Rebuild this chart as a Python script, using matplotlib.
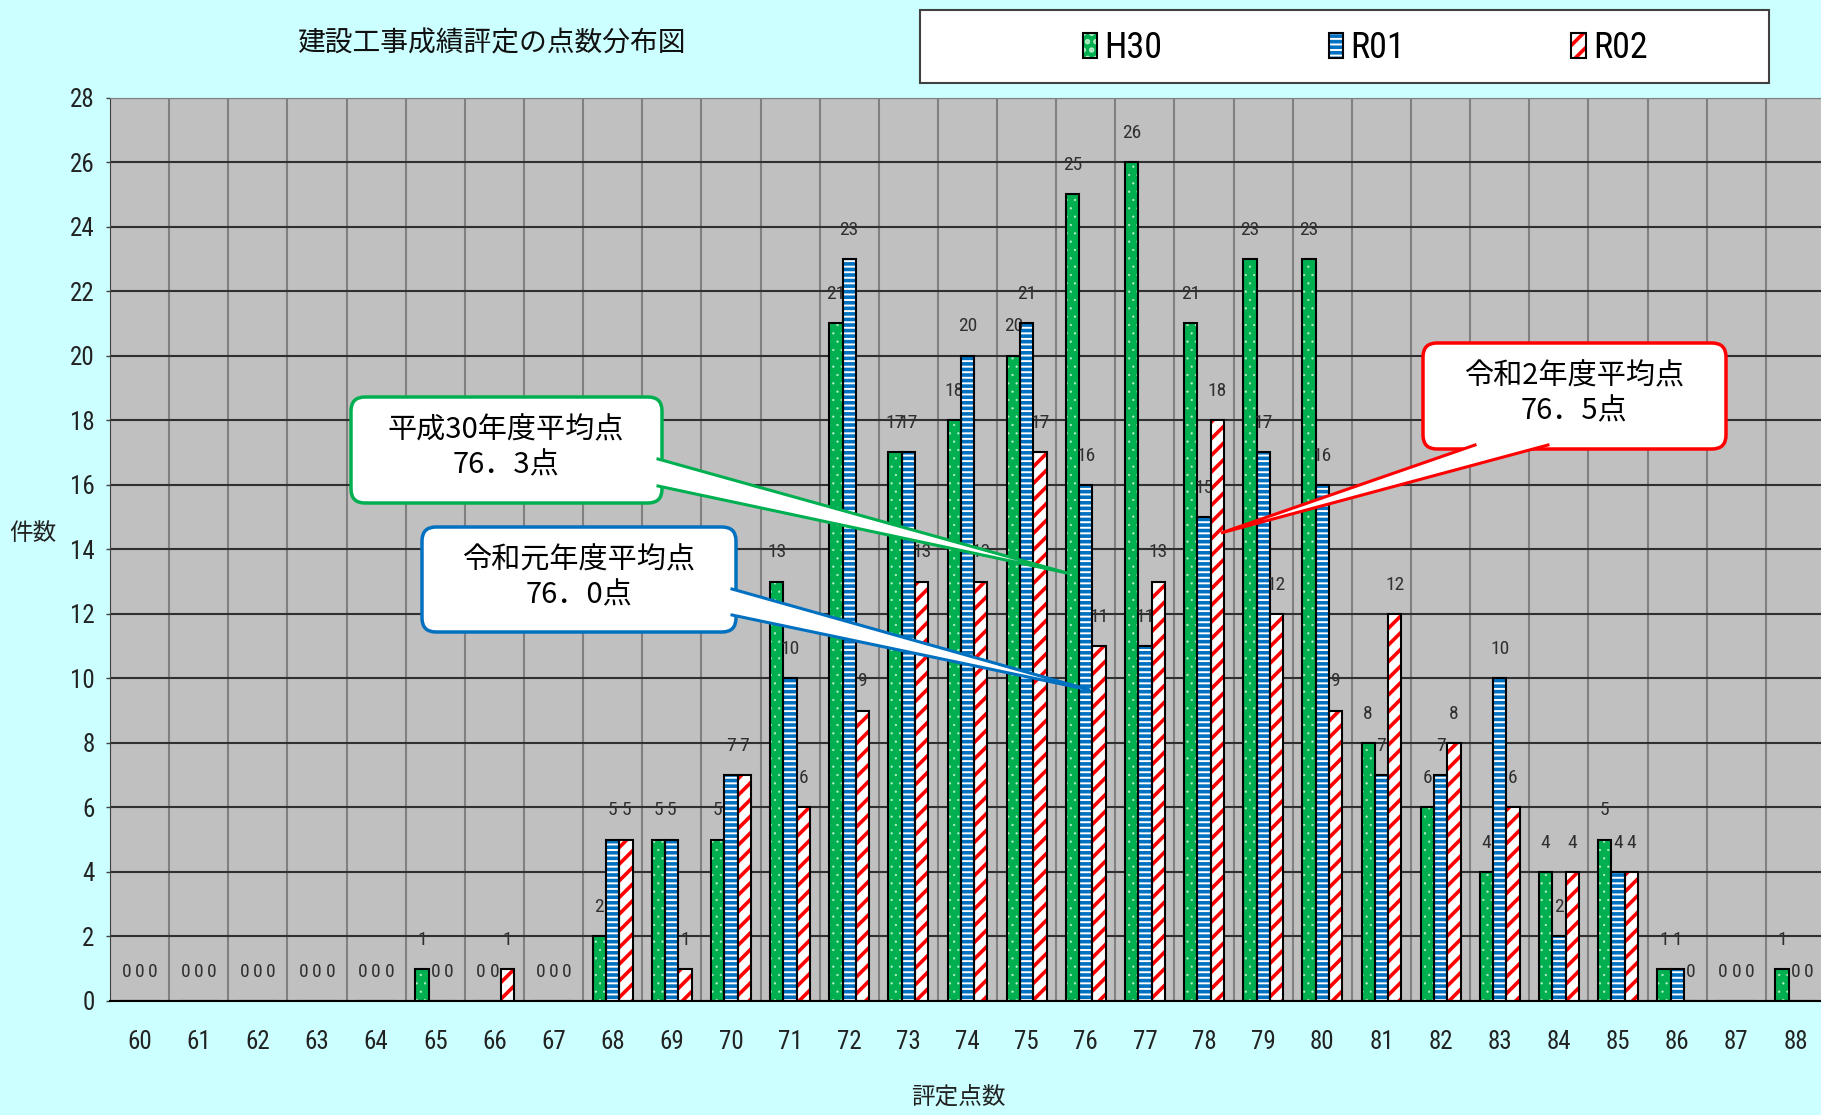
import matplotlib
matplotlib.use("Agg")
import numpy as np
import matplotlib.pyplot as plt
from matplotlib import font_manager
from matplotlib.patches import FancyBboxPatch, Polygon, Rectangle, Patch

# 評定点 and number of works per year
scores = list(range(60, 89))
h30 = [0, 0, 0, 0, 0, 1, 0, 0, 2, 5, 5, 13, 21, 17, 18, 20, 25, 26, 21, 23, 23, 8, 6, 4, 4, 5, 1, 0, 1]
r01 = [0, 0, 0, 0, 0, 0, 0, 0, 5, 5, 7, 10, 23, 17, 20, 21, 16, 11, 15, 17, 16, 7, 7, 10, 2, 4, 1, 0, 0]
r02 = [0, 0, 0, 0, 0, 0, 1, 0, 5, 1, 7, 6, 9, 13, 13, 17, 11, 13, 18, 12, 9, 12, 8, 6, 4, 4, 0, 0, 0]
series_names = ["H30", "R01", "R02"]
averages = ["76．3点", "76．0点", "76．5点"]
avg_titles = ["平成30年度平均点", "令和元年度平均点", "令和2年度平均点"]


def pick_narrow():
    fonts = font_manager.fontManager.ttflist
    for want in ("Liberation Sans Narrow", "Roboto Condensed", "Noto Sans Condensed",
                 "Open Sans Condensed", "DejaVu Sans Condensed"):
        if any(f.name == want for f in fonts):
            return want, "normal", True
    for want in ("DejaVu Sans", "Noto Sans", "Roboto", "Open Sans"):
        for f in fonts:
            st = f.stretch
            if f.name == want and (st in ("condensed", "semi-condensed", "extra-condensed")
                                   or (isinstance(st, (int, float)) and st < 500)):
                return want, st, True
    return "DejaVu Sans", "normal", False


narrow, stretch, have_narrow = pick_narrow()
jp = "Noto Sans CJK JP"
plt.rcParams["font.family"] = [narrow, jp, "DejaVu Sans"]
plt.rcParams["font.stretch"] = stretch
label_size = 14 if have_narrow else 11
tick_size = 18 if have_narrow else 14.5

W, H = 1821, 1115
fig = plt.figure(figsize=(W / 100, H / 100), dpi=100, facecolor="#CCFFFF")
ax = fig.add_axes([110 / W, 1 - 1001 / H, 1715 / W, (1001 - 97.5) / H])
ax.set_facecolor("#C0C0C0")

x = np.array(scores)
bw = 0.225
# values, offset, face, hatch colour, hatch, hatch linewidth
styles = [
    (h30, -bw, "#00B050", "#B8F0CC", "..", 0.4),
    (r01, 0.0, "white", "#0070C0", "---", 2.6),
    (r02, bw, "white", "#FF0000", "//", 2.6),
]
handles = []
for vals, off, face, hcol, hatch, hlw in styles:
    plt.rcParams["hatch.linewidth"] = hlw
    hb = ax.bar(x + off, vals, bw, color=face, edgecolor=hcol, hatch=hatch, linewidth=0, zorder=2)
    if hasattr(hb[0], "set_hatch_linewidth"):
        for p in hb:
            p.set_hatch_linewidth(hlw)
    ax.bar(x + off, vals, bw, fill=False, edgecolor="black", linewidth=1.5, zorder=3)
    for xi, v in zip(x + off, vals):
        ax.annotate(str(v), (xi, v), xytext=(0, 21), textcoords="offset points",
                    ha="center", va="center", fontsize=label_size, color="#303030")
    handles.append((Patch(facecolor=face, edgecolor=hcol, hatch=hatch, linewidth=0),
                    Patch(fill=False, edgecolor="black", linewidth=1.5)))
plt.rcParams["hatch.linewidth"] = 2.6

ax.set_xlim(59.5, 88.5)
ax.set_ylim(0, 28)
ax.set_xticks(scores)
ax.set_xticks(np.arange(59.5, 89, 1), minor=True)
ax.set_yticks(range(0, 29, 2))
ax.set_axisbelow(True)
ax.yaxis.grid(True, color="#303030", linewidth=1.5)
ax.xaxis.grid(True, which="minor", color="#808080", linewidth=1.5)
ax.tick_params(axis="x", which="both", length=0, pad=21, labelsize=tick_size, labelcolor="#222222")
ax.tick_params(axis="y", length=3, width=1, pad=8, labelsize=tick_size, labelcolor="#222222", color="#404040")
ax.spines["left"].set_color("#404040")
ax.spines["top"].set_color("#808080")
ax.spines["bottom"].set_color("black")
ax.spines["bottom"].set_linewidth(1.5)
ax.spines["right"].set_visible(False)

# overlay in pixel units for the title, legend box and callouts
ov = fig.add_axes([0, 0, 1, 1])
ov.set_xlim(0, W)
ov.set_ylim(H, 0)
ov.axis("off")
ov.set_zorder(2)

ov.text(491, 43, "建設工事成績評定の点数分布図", fontsize=20, family=jp, ha="center", va="center", color="#111111")
ov.text(33, 533, "件数", fontsize=17, family=jp, ha="center", va="center", color="#222222")
ov.text(958, 1097, "評定点数", fontsize=17, family=jp, ha="center", va="center", color="#222222")

ov.add_patch(Rectangle((920, 10), 849, 73, facecolor="white", edgecolor="#404040", linewidth=1.5))
fig.legend(handles, series_names, loc="center left", bbox_to_anchor=(1083 / W, 1 - 48 / H),
           ncol=3, frameon=False, fontsize=26, handlelength=0.4, handleheight=0.7,
           handletextpad=0.2, columnspacing=4.6 if have_narrow else 4.2,
           borderpad=0, borderaxespad=0)


def callout(box, base, tip, color, label, avg, txy):
    x0, y0, x1, y1 = box
    ov.add_patch(FancyBboxPatch((x0, y0), x1 - x0, y1 - y0, boxstyle="round,pad=0,rounding_size=14",
                                facecolor="white", edgecolor=color, linewidth=2.5))
    ov.add_patch(Polygon([base[0], tip, base[1]], closed=True, facecolor="white", edgecolor="none"))
    ov.plot([base[0][0], tip[0], base[1][0]], [base[0][1], tip[1], base[1][1]],
            color=color, linewidth=2.2, solid_joinstyle="miter")
    ov.text(txy[0], txy[1], label + "\n" + avg, fontsize=21, family=jp, ha="center", va="center",
            multialignment="center", linespacing=1.2, color="black")


callout((351, 397, 662, 503), [(658, 459), (658, 486)], (1067, 573), "#00B050",
        avg_titles[0], averages[0], (506, 448))
callout((422, 527, 736, 632), [(732, 589), (732, 615)], (1090, 690), "#0070C0",
        avg_titles[1], averages[1], (579, 578))
callout((1423, 343, 1726, 449), [(1475, 445), (1548, 445)], (1221, 533), "#FF0000",
        avg_titles[2], averages[2], (1574, 394))

fig.savefig("out.png", dpi=100, facecolor=fig.get_facecolor())
